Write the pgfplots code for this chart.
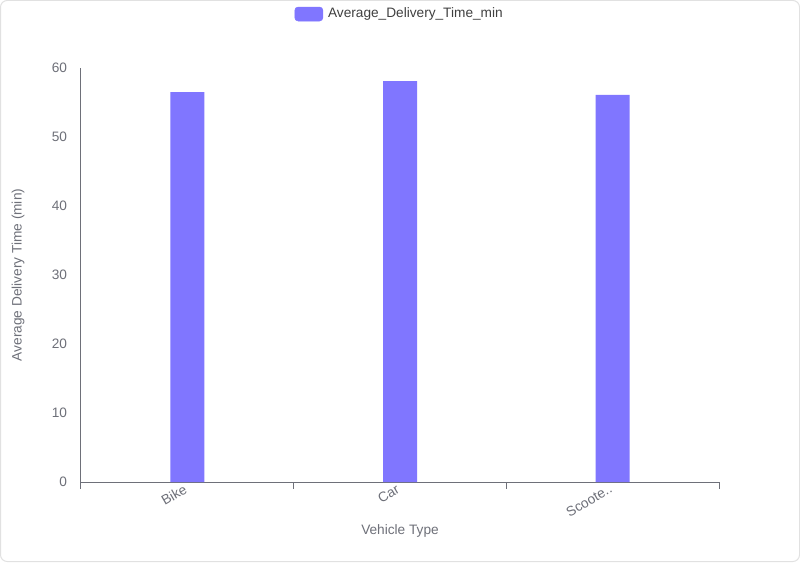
\documentclass[border=0pt]{standalone}
\usepackage{pgfplots}
\pgfplotsset{compat=1.18}
\usepackage{fontspec}
\setmainfont{Liberation Sans}
\definecolor{barc}{RGB}{128,118,255}
\definecolor{txt}{RGB}{110,112,121}
\definecolor{axc}{RGB}{110,112,121}
\definecolor{frame}{RGB}{225,225,225}
\begin{document}
\begin{tikzpicture}
\path[fill=white,draw=frame,line width=0.75pt,rounded corners=5pt] (0.375pt,0.375pt) rectangle (599.625pt,421.125pt);
\begin{axis}[
  at={(60.75pt,60pt)}, anchor=south west,
  scale only axis, width=478.5pt, height=310.5pt,
  xmin=-0.5, xmax=2.5, ymin=0, ymax=60,
  axis x line*=bottom, axis y line*=left,
  axis line style={draw=axc, line width=0.75pt},
  xtick={-0.5,0.5,1.5,2.5}, xticklabels={},
  xtick style={draw=axc, line width=0.75pt},
  major tick length=5pt, tick align=outside,
  extra x ticks={0,1,2}, extra x tick labels={Bike,Car,Scoote..},
  extra x tick style={major tick length=0pt, xticklabel style={rotate=30, anchor=north east, font=\fontsize{10.25}{12}\selectfont, text=txt, yshift=4pt}},
  ytick={0,10,20,30,40,50,60},
  y tick style={draw=none},
  yticklabel style={font=\fontsize{10.25}{12}\selectfont, text=txt, xshift=-2pt},
  /pgf/number format/assume math mode=true,
  xlabel={Vehicle Type}, ylabel={Average Delivery Time (min)},
  label style={font=\fontsize{10.25}{12}\selectfont, text=txt},
  xlabel style={at={(axis description cs:0.5,-0.1184)}, anchor=center},
  ylabel style={at={(axis description cs:-0.0987,0.5)}, anchor=center, rotate=0},
  ybar, bar width=25.5pt,
  legend style={at={(axis description cs:0.5,1.1304)}, anchor=center, draw=none, fill=none, font=\fontsize{10.25}{12}\selectfont, legend cell align=left},
  legend image code/.code={\draw[fill=barc,draw=barc,rounded corners=2.5pt] (0pt,-5.25pt) rectangle (21pt,5.25pt);},
]
\addplot[fill=barc, draw=none] coordinates {(0,56.5) (1,58.1) (2,56.1)};
\addlegendentry{\textcolor{black!75}{\,Average\_Delivery\_Time\_min}}
\end{axis}
\end{tikzpicture}
\end{document}
